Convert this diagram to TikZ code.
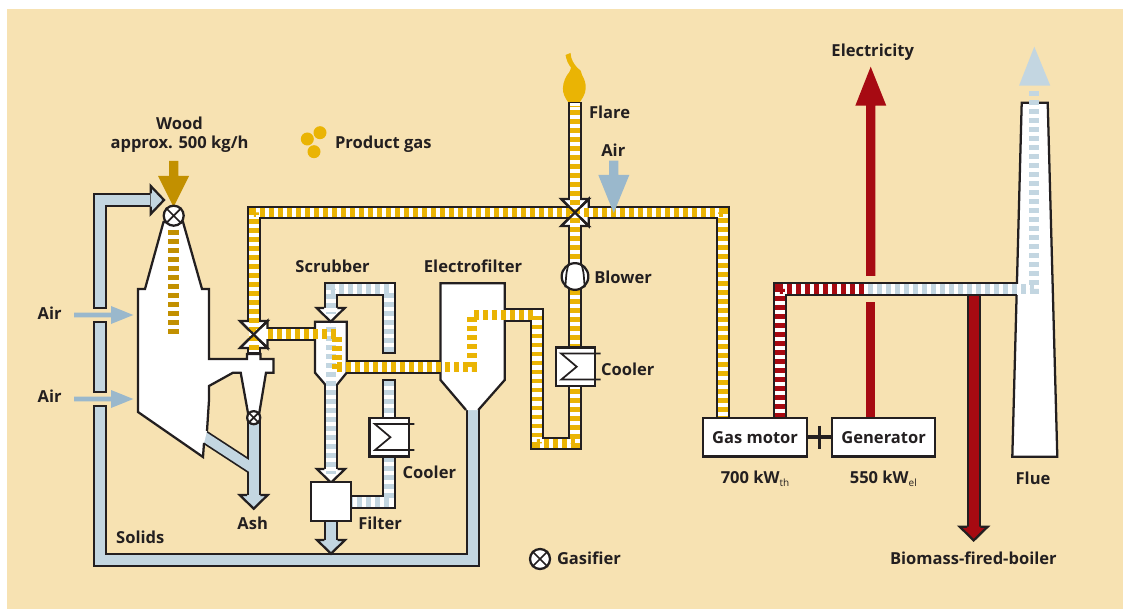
\documentclass[tikz,border=0pt]{standalone}
\usepackage{fontspec}
\setmainfont{Open Sans}
\definecolor{paper}{HTML}{F7E2B2}
\definecolor{inkline}{HTML}{231F20}
\definecolor{gasyellow}{HTML}{EAB404}
\definecolor{woodgold}{HTML}{C29000}
\definecolor{solidblue}{HTML}{C3D6E1}
\definecolor{airblue}{HTML}{9AB8CC}
\definecolor{heatred}{HTML}{A70A12}
\tikzset{
  every picture/.style={line width=1.5pt},
  pipeline/.style={draw=inkline,line width=10.4pt},
  pipecore/.style={draw=white,line width=7.4pt,shorten <=1.6pt,shorten >=1.6pt},
  pipedash/.style={line width=7.4pt,dash pattern=on 3.6pt off 3.15pt,shorten <=1.6pt,shorten >=1.6pt},
  loosedash/.style={line width=8.25pt,dash pattern=on 3.4pt off 3.35pt},
  vessel/.style={draw=inkline,fill=white,line width=1.7pt,line join=miter},
  unit/.style={draw=inkline,fill=white,line width=1.7pt,inner sep=0pt},
  txt/.style={text=inkline,font=\fontsize{12.4}{14}\selectfont\bfseries,inner sep=0pt},
  valveball/.style={circle,draw=inkline,fill=white,line width=1.7pt,inner sep=0pt},
  symbolline/.style={draw=inkline,line width=1.3pt},
}
\newcommand{\duct}[2]{\draw[pipeline] #2; \draw[pipecore,draw=#1] #2;}
\newcommand{\subtxt}[1]{\raisebox{-2.2pt}{\fontsize{7.5}{8}\selectfont\mdseries #1}}
\begin{document}
\begin{tikzpicture}[x=0.75pt,y=0.75pt,yscale=-1,xscale=1]
\useasboundingbox (0,0) rectangle (1123,609);
\fill[paper] (7,9) rectangle (1123,609);

% solids
\duct{solidblue}{(99.7,309) -- (99.7,200) -- (152,200)}
\duct{solidblue}{(99.7,321) -- (99.7,392.7)}
\duct{solidblue}{(99.7,405) -- (99.7,559.7) -- (472.7,559.7) -- (472.7,405)}
\draw[pipeline] (253.7,420) -- (253.7,497);
\draw[pipeline,line width=9.8pt] (200,434) -- (253.7,469);
\draw[pipecore,draw=solidblue,shorten <=0pt,shorten >=0pt] (253.7,420) -- (253.7,497);
\draw[pipecore,draw=solidblue,line width=7.2pt,shorten <=0pt,shorten >=0pt] (200,434) -- (253.7,469);
\duct{solidblue}{(331,519) -- (331,542)}

% boiler line
\duct{heatred}{(973.7,294) -- (973.7,529)}

% gasifier with cyclone
\draw[vessel] (207,431) -- (209,400) -- (209,386) -- (233,372.7) -- (240.7,372.7) -- (248,413) -- (259.3,413) -- (266,372.7) -- (273.5,372.7) -- (273.5,359) -- (260.5,359) -- (260.5,354) -- (247,354) -- (247,359) -- (209,359) -- (209,289) -- (202,289) -- (183,222) -- (163.5,222) -- (145,289) -- (138,289) -- (138,412) -- (203,457) -- (204,443);
\draw[loosedash,draw=woodgold] (173.7,230) -- (173.7,335);

% scrubber, electrofilter, flue
\draw[vessel] (325,384.3) -- (315,372.7) -- (315,321.7) -- (346.7,321.7) -- (346.7,372.7) -- (337.3,384.3);
\draw[vessel] (466,410) -- (440.5,380) -- (440.5,283.3) -- (504.7,283.3) -- (504.7,380) -- (478.3,410);
\draw[vessel] (1016.9,284) -- (1021.7,102.7) -- (1047.7,102.7) -- (1057.3,456.7) -- (1012.3,456.7) -- (1016.6,295);

% product gas, edges
\draw[pipeline] (253.7,321) -- (253.7,212.5) -- (575,212.5);
\draw[pipeline] (253.7,348) -- (253.7,354);
\draw[pipeline] (268,334) -- (315,334);
\draw[pipeline] (589,212.5) -- (723,212.5) -- (723,420);
\draw[pipeline] (575,102) -- (575,199.3);
\draw[pipeline] (575,226) -- (575,443.5) -- (536.7,443.5) -- (536.7,315) -- (504.7,315);
\draw[pipeline] (346.7,366.7) -- (440.5,366.7);

% valves
\foreach \vx/\vy in {253.7/334.5,575/212.5} {
  \draw[vessel] (\vx-13.8,\vy-13.5) -- (\vx+13.8,\vy-13.5) -- (\vx,\vy) -- cycle;
  \draw[vessel] (\vx-13.8,\vy+13.5) -- (\vx+13.8,\vy+13.5) -- (\vx,\vy) -- cycle;
  \draw[vessel] (\vx+13.8,\vy-13.5) -- (\vx+13.8,\vy+13.5) -- (\vx,\vy) -- cycle;
}

% product gas, core
\draw[pipecore] (253.7,354) -- (253.7,212.5) -- (723,212.5) -- (723,420);
\draw[pipedash,draw=gasyellow] (253.7,352) -- (253.7,212.5) -- (723,212.5) -- (723,420);
\draw[pipecore,shorten >=0pt] (254,334) -- (315,334);
\draw[pipecore] (346,366.7) -- (441,366.7);
\draw[pipecore,shorten <=0pt,shorten >=0pt] (504,315) -- (536.7,315) -- (536.7,443.5) -- (575,443.5) -- (575,103.5);
\draw[pipedash,draw=gasyellow,shorten <=0pt] (337,366.7) -- (472.3,366.7) -- (472.3,315) -- (536.7,315) -- (536.7,443.5) -- (575,443.5) -- (575,103.5);
\foreach \vx/\vy in {253.7/334.5,575/212.5} {
  \draw[symbolline,line width=1.7pt] (\vx-13.8,\vy-13.5) -- (\vx+13.8,\vy+13.5);
  \draw[symbolline,line width=1.7pt] (\vx-13.8,\vy+13.5) -- (\vx+13.8,\vy-13.5);
}

% water circuit
\draw[pipeline] (389,354) -- (389,289.3) -- (330.7,289.3) -- (330.7,310);
\draw[pipeline] (389,379.3) -- (389,420);
\draw[pipeline] (389,455) -- (389,501.7) -- (348,501.7);
\draw[pipeline] (331,384.3) -- (331,471);
\foreach \ax/\ay/\ac in {330.7/308/white,331/469/white,253.7/495/solidblue,331/540/solidblue,973.7/526.7/heatred} {
  \draw[vessel,fill=\ac] (\ax-6.7,\ay) -- (\ax-14,\ay) -- (\ax,\ay+13.7) -- (\ax+14,\ay) -- (\ax+6.7,\ay);
}
\draw[pipecore] (389,354) -- (389,289.3) -- (330.7,289.3) -- (330.7,316);
\draw[pipedash,draw=solidblue] (389,354) -- (389,289.3) -- (330.7,289.3) -- (330.7,316);
\draw[pipecore] (389,379.3) -- (389,420);
\draw[pipedash,draw=solidblue] (389,379.3) -- (389,420);
\draw[pipecore] (389,455) -- (389,501.7) -- (348,501.7);
\draw[pipedash,draw=solidblue] (389,455) -- (389,501.7) -- (348,501.7);
\draw[pipecore,shorten <=0pt] (331,384) -- (331,476);
\draw[pipedash,draw=solidblue,shorten <=0pt] (331,327) -- (331,476);
\draw[pipedash,draw=gasyellow,shorten <=0pt,shorten >=0pt] (268,334) -- (337,334) -- (337,372);

% flue gas
\draw[pipeline] (787,289.3) -- (1017,289.3);
\draw[pipeline] (780.3,420) -- (780.3,289.3) -- (868,289.3);
\draw[pipecore] (780.3,420) -- (780.3,289.3) -- (1021,289.3);
\draw[pipedash,draw=heatred] (780.3,420) -- (780.3,289.3) -- (868,289.3);
\draw[pipedash,draw=solidblue,shorten <=0pt,shorten >=0pt] (868,289.3) -- (1034.3,289.3) -- (1034.3,88);
\fill[solidblue] (1019,85.7) -- (1034.3,46.7) -- (1050.3,85.7) -- cycle;

% electricity
\fill[heatred] (866,276) -- (866,105.7) -- (855.3,105.7) -- (870.7,66.7) -- (886.3,105.7) -- (875.3,105.7) -- (875.3,276) -- cycle;
\fill[heatred] (866,302.3) rectangle (875.3,418);

% arrows from outside
\foreach \ay in {315,399} {
  \fill[airblue] (74,\ay-2.4) -- (111,\ay-2.4) -- (111,\ay-9) -- (133.3,\ay) -- (111,\ay+9) -- (111,\ay+2.4) -- (74,\ay+2.4) -- cycle;
}
\fill[airblue] (609,160.7) -- (618.3,160.7) -- (618.3,175) -- (629.3,175) -- (613.7,213) -- (598.3,175) -- (609,175) -- cycle;
\fill[woodgold] (169,161) -- (178.3,161) -- (178.3,176) -- (189,176) -- (173.5,207) -- (158,176) -- (169,176) -- cycle;
\draw[vessel,fill=solidblue] (150.7,193.4) -- (150.7,186) -- (164,200) -- (150.7,214) -- (150.7,206.6);

% flare
\fill[gasyellow] (565.5,55) -- (570.5,53) .. controls (571,60) and (574,64) .. (577.5,68) .. controls (580.5,70) and (582,72) .. (582,75) .. controls (584.5,79) and (586,84) .. (585.7,88.3) .. controls (585.5,94) and (582.5,98) .. (580,102) -- (568,102) .. controls (565,98) and (562.7,93) .. (562.9,88.3) .. controls (563,82) and (566,76) .. (569,72.5) .. controls (570,71) and (570.5,70) .. (571,67.5) .. controls (568,64) and (566.5,60) .. (565.5,55) -- cycle;
\foreach \dx/\dy in {320/132.7,307.3/139,314/151.7} {
  \fill[gasyellow] (\dx,\dy) circle (6.5);
}

% machines
\node[valveball,minimum size=15pt] (feed) at (173.7,215.7) {};
\draw[symbolline] (feed.45) -- (feed.225) (feed.135) -- (feed.315);
\node[valveball,minimum size=9.8pt] (discharge) at (253.7,417.7) {};
\draw[symbolline] (discharge.45) -- (discharge.225) (discharge.135) -- (discharge.315);
\node[valveball,minimum size=15pt] (legendvalve) at (540,559) {};
\draw[symbolline] (legendvalve.45) -- (legendvalve.225) (legendvalve.135) -- (legendvalve.315);
\node[valveball,minimum size=20pt] (blower) at (575,276.5) {};
\draw[symbolline] (blower.115) .. controls (566.5,271) .. (blower.228);
\draw[symbolline] (blower.65) .. controls (583.5,271) .. (blower.312);
\node[unit,minimum width=29.5pt,minimum height=29pt] (filter) at (331,501.5) {};
\foreach \cx/\cy/\cn in {575.5/366.7/coolerA,389.2/437.2/coolerB} {
  \node[unit,minimum width=29.5pt,minimum height=29pt] (\cn) at (\cx,\cy) {};
  \draw[symbolline] (\cx+25.2,\cy-13.3) -- (\cx-14.5,\cy-13.3) -- (\cx+1.2,\cy) -- (\cx-14,\cy+12.7) -- (\cx+25.2,\cy+12.7);
}
\node[unit,txt,minimum width=77.5pt,minimum height=29pt] (motor) at (755,437.2) {Gas motor};
\node[unit,txt,minimum width=77.5pt,minimum height=29pt] (generator) at (883.6,437.2) {Generator};
\coordinate (shaftbar) at (819.3,437.2);
\draw[draw=inkline,line width=2.6pt] (motor) -- (generator);
\draw[draw=inkline,line width=2.6pt] ([yshift=-8.7pt]shaftbar) -- ([yshift=8.7pt]shaftbar);

% Text Node
\node[txt,align=center] (wood) at (179.5,135) {Wood\\approx. 500 kg/h};
\node[txt,anchor=west] (gaslabel) at (334,144.5) {Product gas};
\node[txt,anchor=west] (flarelabel) at (588,112) {Flare};
\node[txt] (airtop) at (613.3,150) {Air};
\node[txt,anchor=west] (blowerlabel) at (593.3,277) {Blower};
\node[txt,anchor=west] (coolerlabelA) at (600,369) {Cooler};
\node[txt,anchor=west] (coolerlabelB) at (401.7,472.3) {Cooler};
\node[txt] (eflabel) at (473,266.5) {Electrofilter};
\node[txt] (scrubberlabel) at (332.5,266.5) {Scrubber};
\node[txt,anchor=west] (filterlabel) at (357.3,523.3) {Filter};
\node[txt] (ashlabel) at (252.7,523.3) {Ash};
\node[txt,anchor=west] (solidslabel) at (115.2,537.7) {Solids};
\node[txt,anchor=west] (airA) at (36.7,313) {Air};
\node[txt,anchor=west] (airB) at (36.7,396) {Air};
\node[txt,anchor=west] (gasifierlabel) at (556,558) {Gasifier};
\node[txt] (thermal) at (755,479) {700 kW\subtxt{th}};
\node[txt] (electric) at (883.3,479) {550 kW\subtxt{el}};
\node[txt] (fluelabel) at (1033,478) {Flue};
\node[txt] (electricity) at (872.7,52.5) {Electricity};
\node[txt] (boiler) at (973.3,558) {Biomass-fired-boiler};
\end{tikzpicture}
\end{document}
